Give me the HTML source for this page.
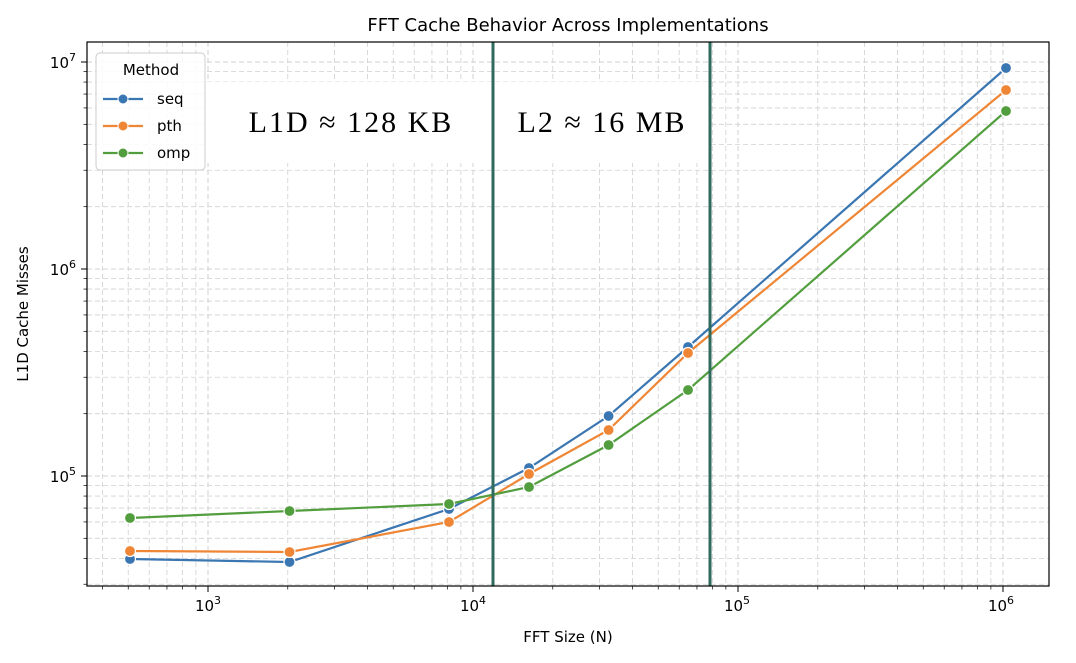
<!DOCTYPE html>
<html><head><meta charset="utf-8"><style>body{margin:0;background:#fff}</style></head>
<body>
<svg id="s" width="1076" height="658" xmlns="http://www.w3.org/2000/svg" font-family="DejaVu Sans, Liberation Sans, sans-serif"></svg>
<script>
const s=document.getElementById('s');
const L=87,R=1049,T=42,B=586;
const X=v=>208+(Math.log10(v)-3)*265;
const Y=v=>476-(Math.log10(v)-5)*207;
let h='<rect width="1076" height="658" fill="#fff"/>';
for(let d=2;d<=6;d++)for(let m=1;m<10;m++){const x=X(m*Math.pow(10,d));if(x<L||x>R)continue;
h+=`<line x1="${x}" y1="${T}" x2="${x}" y2="${B}" stroke="#d0d0d0" stroke-width="${m==1?1:0.8}" stroke-dasharray="5,3"/>`;
h+=`<line x1="${x}" y1="${B}" x2="${x}" y2="${B+(m==1?6:3.5)}" stroke="#000" stroke-width="${m==1?1:0.7}"/>`;}
for(let d=4;d<=7;d++)for(let m=1;m<10;m++){const y=Y(m*Math.pow(10,d));if(y<T||y>B)continue;
h+=`<line x1="${L}" y1="${y}" x2="${R}" y2="${y}" stroke="#d0d0d0" stroke-width="${m==1?1:0.8}" stroke-dasharray="5,3"/>`;
h+=`<line x1="${L}" y1="${y}" x2="${L-(m==1?6:3.5)}" y2="${y}" stroke="#000" stroke-width="${m==1?1:0.7}"/>`;}
h+='<rect x="207" y="82" width="501" height="81" fill="#fff"/>';
h+='<text x="351" y="132" font-family="Liberation Serif,serif" font-size="30" letter-spacing="2" text-anchor="middle">L1D ≈ 128 KB</text>';
h+='<text x="602" y="132" font-family="Liberation Serif,serif" font-size="30" letter-spacing="2" text-anchor="middle">L2 ≈ 16 MB</text>';
const xs=[130,289.5,449,529,608.6,688,1006];
const S=[['#3a76b1',[559,562,509,468,416,347,68]],['#ef8636',[551,552,522,474,430,353,90]],['#529e3f',[518,511,504,487,445,390,111]]];
for(const [c,ys] of S){h+=`<polyline fill="none" stroke="${c}" stroke-width="2.2" points="${xs.map((x,i)=>x+','+ys[i]).join(' ')}"/>`;
xs.forEach((x,i)=>h+=`<circle cx="${x}" cy="${ys[i]}" r="5.5" fill="${c}" stroke="#fff" stroke-width="1.2"/>`);}
h+='<line x1="493" y1="42" x2="493" y2="586" stroke="#2f6a5c" stroke-width="3"/>';
h+='<line x1="710" y1="42" x2="710" y2="586" stroke="#2f6a5c" stroke-width="3"/>';
h+=`<rect x="${L}" y="${T}" width="${R-L}" height="${B-T}" fill="none" stroke="#000" stroke-width="1.2"/>`;
h+='<rect x="96" y="53" width="109" height="117" rx="4" fill="#fff" fill-opacity="0.85" stroke="#ccc"/>';
h+='<text x="151" y="75" font-size="15" text-anchor="middle">Method</text>';
['seq','pth','omp'].forEach((n,i)=>{const y=99+i*27,c=S[i][0];h+=`<line x1="103" y1="${y}" x2="143" y2="${y}" stroke="${c}" stroke-width="2.2"/><circle cx="123" cy="${y}" r="5" fill="${c}" stroke="#fff"/><text x="157" y="${y+5}" font-size="15">${n}</text>`;});
[[3,208],[4,473],[5,737],[6,1001]].forEach(([e,x])=>h+=`<text x="${x}" y="611" font-size="15" text-anchor="middle">10<tspan dy="-7" font-size="11">${e}</tspan></text>`);
[[7,62],[6,269],[5,476]].forEach(([e,y])=>h+=`<text x="76" y="${y+6}" font-size="15" text-anchor="end">10<tspan dy="-7" font-size="11">${e}</tspan></text>`);
h+='<text x="568" y="642" font-size="15" text-anchor="middle">FFT Size (N)</text>';
h+='<text transform="translate(28,314) rotate(-90)" font-size="15" text-anchor="middle">L1D Cache Misses</text>';
h+='<text x="568" y="31" font-size="18" text-anchor="middle">FFT Cache Behavior Across Implementations</text>';
s.innerHTML=h;
</script>
</body></html>
